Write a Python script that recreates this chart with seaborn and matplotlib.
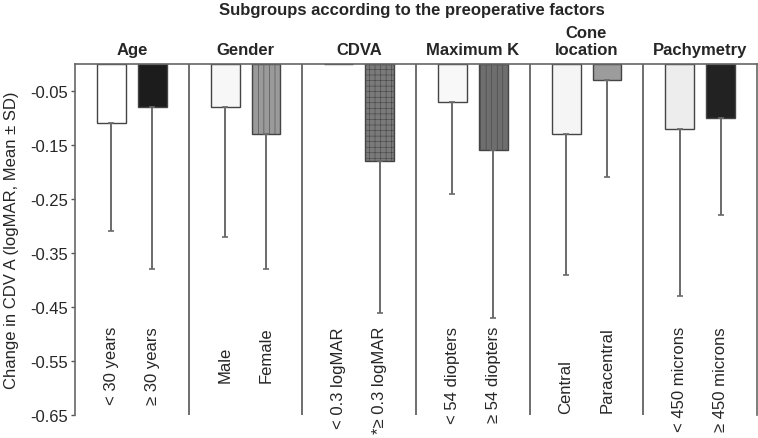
import numpy as np
import pandas as pd
import matplotlib.pyplot as plt
import seaborn as sns
from matplotlib.transforms import blended_transform_factory

# data
factors = ['Age', 'Gender', 'CDVA', 'Maximum K', 'Cone\nlocation', 'Pachymetry']
groups = ['< 30 years', '≥ 30 years', 'Male', 'Female', '< 0.3 logMAR', '*≥ 0.3 logMAR',
          '< 54 diopters', '≥ 54 diopters', 'Central', 'Paracentral',
          '< 450 microns', '≥ 450 microns']
means = [-0.11, -0.08, -0.08, -0.13, 0.0, -0.18, -0.07, -0.16, -0.13, -0.03, -0.12, -0.10]
sds = [0.20, 0.30, 0.24, 0.25, 0.0, 0.28, 0.17, 0.31, 0.26, 0.18, 0.31, 0.18]
yticks = [-0.05, -0.15, -0.25, -0.35, -0.45, -0.55, -0.65]

bar_colors = ['#ffffff', '#1c1c1c', '#f7f7f7', '#9a9a9a', '#ffffff', '#7a7a7a',
              '#f8f8f8', '#6e6e6e', '#f5f5f5', '#9c9c9c', '#ededed', '#222222']
hatches = ['', '', '', '|||', '', '+++', '', '|||', '', '', '', '']
label_top = [-0.485, -0.485, -0.522, -0.485, -0.485, -0.485,
             -0.485, -0.485, -0.546, -0.485, -0.485, -0.485]

pos = [i + off for i in range(len(factors)) for off in (0.32, 0.68)]
df = pd.DataFrame({'pos': pos, 'mean': means, 'sd': sds, 'group': groups})

sns.set_style('white')
plt.rcParams['font.family'] = ['Liberation Sans', 'DejaVu Sans']
plt.rcParams['hatch.linewidth'] = 0.4

fig, ax = plt.subplots(figsize=(7.58, 4.39), dpi=100)
fig.subplots_adjust(left=0.099, right=0.9987, top=0.852, bottom=0.052)

sns.barplot(data=df, x='pos', y='mean', native_scale=True, width=0.706,
            color='white', edgecolor='#444444', linewidth=1.0, errorbar=None, ax=ax)

bars = sorted(ax.patches, key=lambda p: p.get_x())
for p, c, h in zip(bars, bar_colors, hatches):
    p.set_facecolor(c)
    p.set_hatch(h)

# lower half of the SD only
m = df['sd'] > 0
ax.errorbar(df.loc[m, 'pos'], df.loc[m, 'mean'],
            yerr=[df.loc[m, 'sd'], np.zeros(m.sum())],
            fmt='none', ecolor='#6a6a6a', elinewidth=1.4, capsize=2.5, capthick=1.2)

ax.vlines(range(1, len(factors)), -0.65, 0, color='#555555', lw=1.2)

ax.set_xlim(0, len(factors))
ax.set_ylim(-0.65, 0)
ax.set_xticks([])
ax.set_xlabel('')
ax.set_yticks(yticks)
ax.set_yticklabels([f'{v:.2f}' for v in yticks], fontsize=12)
ax.tick_params(axis='y', left=True, length=3, width=1, color='#555555', pad=2)

for s in ['top', 'left', 'right']:
    ax.spines[s].set_color('#666666')
    ax.spines[s].set_linewidth(1.2)
ax.spines['bottom'].set_visible(False)

ax.set_ylabel('Change in CDV A (logMAR, Mean ± SD)', fontsize=12, labelpad=8)

trans = blended_transform_factory(ax.transData, ax.transAxes)
for i, f in enumerate(factors):
    ax.text(i + 0.5, 1.02, f, transform=trans, ha='center', va='bottom',
            fontsize=12, fontweight='bold', linespacing=1.15)

for x, g, t in zip(pos, groups, label_top):
    ax.text(x, t, g, rotation=90, ha='center', va='top', fontsize=12)

fig.text(0.543, 0.977, 'Subgroups according to the preoperative factors',
         ha='center', va='center', fontsize=12, fontweight='bold')

fig.savefig('out.png', dpi=100)
